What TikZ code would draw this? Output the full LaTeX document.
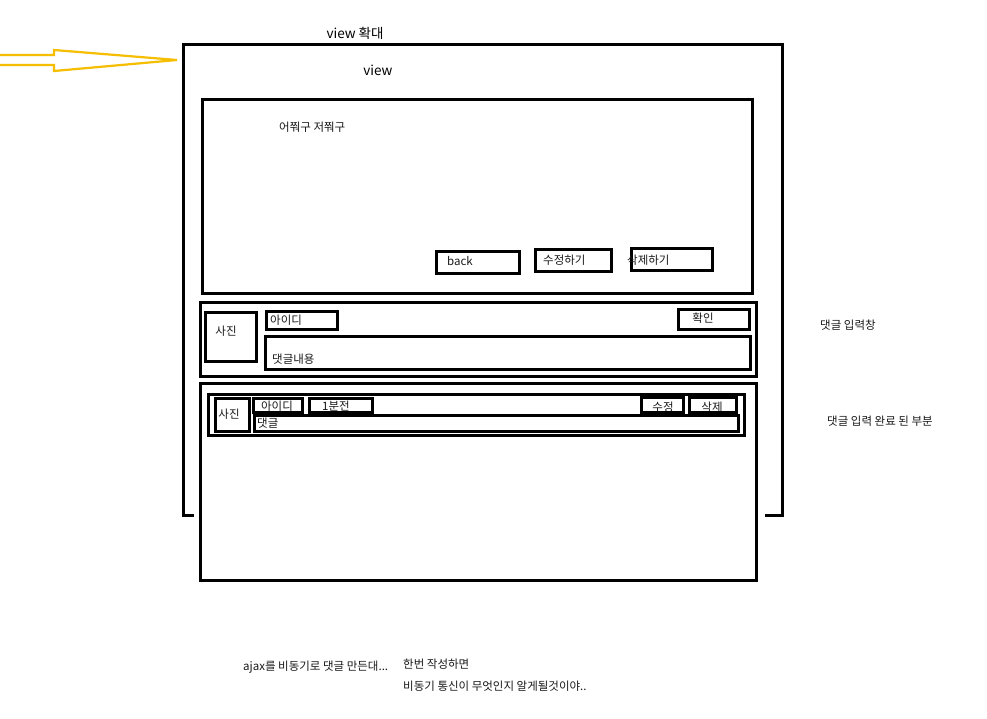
\documentclass[tikz,border=0pt]{standalone}
\usepackage{fontspec}
\setmainfont{Noto Sans CJK KR}
\begin{document}
\begin{tikzpicture}[x=1pt,y=-1pt,
  frame/.style={draw=black,line width=3pt},
  wbox/.style={draw=black,line width=3pt,fill=white},
  lbl/.style={font=\fontsize{11.5}{13}\selectfont,text=black!90,inner sep=0pt},
  big/.style={font=\fontsize{13.5}{15}\selectfont,text=black,inner sep=0pt}]
\useasboundingbox[fill=white] (0,0) rectangle (987,718);
% yellow arrow
\draw[draw={rgb,255:red,245;green,190;blue,0},line width=2.2pt,line join=miter]
  (0,55) -- (54,55) -- (54,50) -- (177,60) -- (54,71) -- (54,65) -- (0,65);
% outer view frame
\draw[frame,line cap=rect] (192,515) -- (183,515) -- (183,44) -- (782,44) -- (782,515) -- (766,515);
\node[big] (ttl) at (355,33) {view 확대};
\node[big] (vw) at (378,70) {view};
% content box
\node[wbox,minimum width=550,minimum height=194,inner sep=0pt] (content) at (477,196) {};
\node[lbl,anchor=west] (txt) at (279,127) {어쭤구 저쭤구};
\draw[frame] (436,251) rectangle (519,273);
\node[lbl,anchor=west] (back) at (447,261) {back};
\draw[frame] (535,249) rectangle (611,271);
\node[lbl,anchor=west] (edit) at (543,260) {수정하기};
\draw[frame] (631,248) rectangle (712,270);
\node[lbl,anchor=west] (del) at (627,260) {삭제하기};
% comment input box
\draw[frame] (200,302) rectangle (756,376);
\draw[frame] (205,312) rectangle (256,361);
\node[lbl] (pic1) at (226,331) {사진};
\draw[frame] (266,311) rectangle (337,329);
\node[lbl,anchor=west] (id1) at (270,320) {아이디};
\draw[frame] (678,309) rectangle (749,329);
\node[lbl] (ok) at (703,318) {확인};
\draw[frame] (265,336) rectangle (750,369);
\node[lbl,anchor=west] (body) at (272,359) {댓글내용};
% comment list box
\draw[wbox] (200,383) rectangle (756,580);
\draw[frame] (208,394) rectangle (744,435);
\draw[frame] (215,398) rectangle (249,431);
\node[lbl] (pic2) at (229,414) {사진};
\node[lbl] (id2) at (277,406) {아이디};
\draw[frame] (253,398) rectangle (302,412);
\node[lbl] (time) at (336,406) {1분전};
\draw[frame] (309,398) rectangle (372,412);
\node[lbl] (ed2) at (663,407) {수정};
\draw[frame] (641,397) rectangle (683,412);
\node[lbl] (de2) at (712,407) {삭제};
\draw[frame] (689,397) rectangle (736,412);
\draw[frame] (254,415) rectangle (738,431);
\node[lbl,anchor=west] (cm) at (257,423) {댓글};
% side notes
\node[lbl,anchor=west] (n1) at (820,325) {댓글 입력창};
\node[lbl,anchor=west] (n2) at (827,421) {댓글 입력 완료 된 부분};
\node[lbl,anchor=west] (n3) at (243,667) {ajax를 비동기로 댓글 만든대...};
\node[lbl,anchor=west] (n4) at (403,664) {한번 작성하면};
\node[lbl,anchor=west] (n5) at (403,686) {비동기 통신이 무엇인지 알게될것이야..};
\end{tikzpicture}
\end{document}
